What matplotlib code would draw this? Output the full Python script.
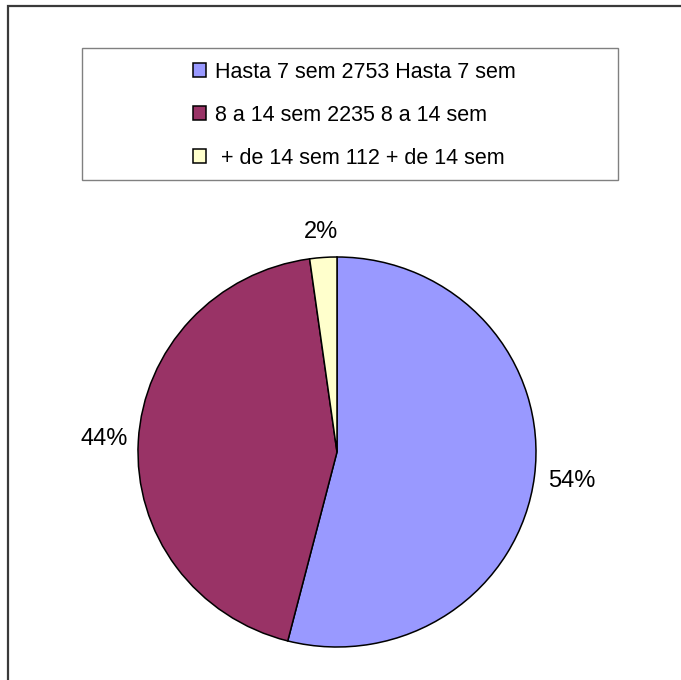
import numpy as np
import matplotlib
matplotlib.use("Agg")
import matplotlib.pyplot as plt
from matplotlib.patches import Rectangle

plt.rcParams['font.family'] = ['Liberation Sans', 'DejaVu Sans']

categories = ["Hasta 7 sem", "8 a 14 sem", " + de 14 sem"]
values = [2753, 2235, 112]
legend_labels = ["Hasta 7 sem 2753 Hasta 7 sem",
                 "8 a 14 sem 2235 8 a 14 sem",
                 " + de 14 sem 112 + de 14 sem"]
colors = ["#9999FF", "#993366", "#FFFFCC"]

W, H = 681, 680
fig = plt.figure(figsize=(W / 100, H / 100), dpi=100)
fig.patch.set_facecolor("white")

# outer chart border (only left/top visible)
fig.add_artist(Rectangle((8 / W, -0.1), 2, (1 - 6 / H) + 0.1,
                         transform=fig.transFigure, fill=False,
                         edgecolor="#3a3a3a", lw=1.6))

# pie axes
px0, px1, py0, py1 = 138, 536, 257, 647
ax = fig.add_axes([px0 / W, 1 - py1 / H, (px1 - px0) / W, (py1 - py0) / H])
wedges, texts, autotexts = ax.pie(
    values, colors=colors, startangle=90, counterclock=False,
    autopct=lambda p: f"{p:.0f}%", pctdistance=1.17,
    wedgeprops=dict(edgecolor="black", linewidth=1.1),
    textprops=dict(fontsize=17, color="black"))
ax.set_aspect("auto")
ax.set_xlim(-1, 1)
ax.set_ylim(-1, 1)
ax.axis("off")

label_dist = [1.19, 1.17, 1.13]
for w, t, d in zip(wedges, autotexts, label_dist):
    mid = np.deg2rad((w.theta1 + w.theta2) / 2)
    t.set_position((d * np.cos(mid), d * np.sin(mid)))
    t.set_clip_on(False)

# legend box
fig.add_artist(Rectangle((82 / W, 1 - 180 / H), 536 / W, 132 / H,
                         transform=fig.transFigure, fill=False,
                         edgecolor="#808080", lw=1.0))
leg = fig.legend(wedges, legend_labels, loc="upper left",
                 bbox_to_anchor=(193 / W, 1 - 61.5 / H),
                 frameon=False, fontsize=15.5, borderpad=0,
                 handlelength=0.6, handleheight=0.6,
                 handletextpad=0.42, labelspacing=1.03,
                 borderaxespad=0)

fig.savefig("out.png", dpi=100, facecolor="white")
